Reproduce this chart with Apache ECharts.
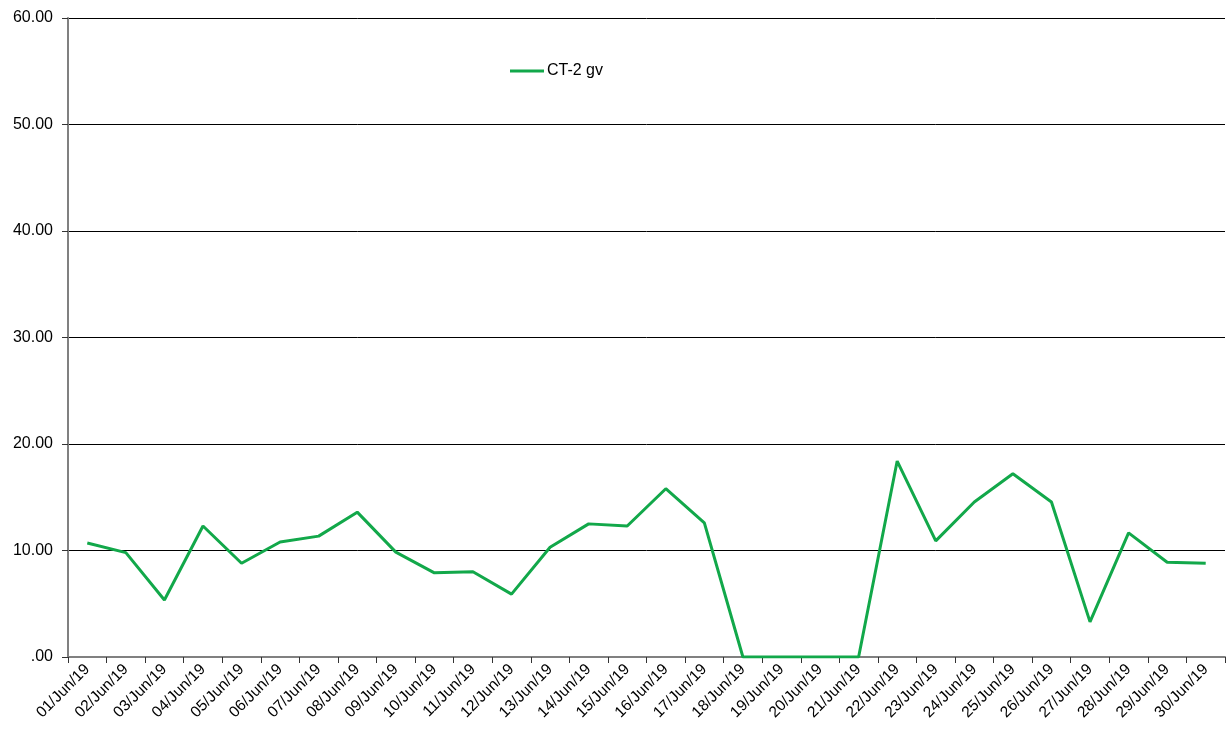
<!DOCTYPE html>
<html>
<head>
<meta charset="utf-8">
<script src="https://cdn.jsdelivr.net/npm/echarts@6/dist/echarts.min.js"></script>
<style>html,body{margin:0;padding:0;background:#fff}#c{width:1227px;height:732px}</style>
</head>
<body>
<div id="c"></div>
<script>
const categories = ['01/Jun/19','02/Jun/19','03/Jun/19','04/Jun/19','05/Jun/19','06/Jun/19','07/Jun/19','08/Jun/19','09/Jun/19','10/Jun/19','11/Jun/19','12/Jun/19','13/Jun/19','14/Jun/19','15/Jun/19','16/Jun/19','17/Jun/19','18/Jun/19','19/Jun/19','20/Jun/19','21/Jun/19','22/Jun/19','23/Jun/19','24/Jun/19','25/Jun/19','26/Jun/19','27/Jun/19','28/Jun/19','29/Jun/19','30/Jun/19'];
const seriesName = 'CT-2 gv';
const values = [10.7,9.8,5.35,12.3,8.8,10.8,11.35,13.6,9.85,7.9,8.0,5.9,10.3,12.5,12.3,15.8,12.6,0,0,0,0,18.4,10.9,14.55,17.2,14.55,3.3,11.65,8.9,8.8];
const yMin = 0, yMax = 60, yStep = 10;

const chart = echarts.init(document.getElementById('c'));
chart.setOption({
  animation: false,
  backgroundColor: '#fff',
  grid: {left: 68, right: 2, top: 18, bottom: 75, containLabel: false},
  legend: {
    left: 505, top: 58,
    icon: 'rect', itemWidth: 34, itemHeight: 3, itemGap: 4,
    textStyle: {fontFamily: 'Liberation Sans, Arial', fontSize: 16, color: '#000', padding: [0, 0, 0, -2]},
    data: [seriesName]
  },
  xAxis: {
    type: 'category', data: categories, boundaryGap: true,
    axisLine: {lineStyle: {color: '#808080', width: 2}},
    axisTick: {show: true, alignWithLabel: false, length: 6, lineStyle: {color: '#333', width: 1}},
    axisLabel: {rotate: 45, interval: 0, fontFamily: 'Liberation Sans, Arial', fontSize: 15.5, color: '#000', margin: 10}
  },
  yAxis: {
    type: 'value', min: yMin, max: yMax, interval: yStep,
    axisLine: {show: true, lineStyle: {color: '#808080', width: 2}},
    axisTick: {show: true, length: 6, lineStyle: {color: '#333'}},
    splitLine: {lineStyle: {color: '#000', width: 1}},
    axisLabel: {fontFamily: 'Liberation Sans, Arial', fontSize: 16, color: '#000', margin: 15,
      formatter: v => v === 0 ? '.00' : v.toFixed(2)}
  },
  series: [{
    name: seriesName, type: 'line', data: values,
    showSymbol: false, symbol: 'none',
    lineStyle: {color: '#12a84a', width: 3},
    itemStyle: {color: '#12a84a'}
  }]
});
</script>
</body>
</html>
